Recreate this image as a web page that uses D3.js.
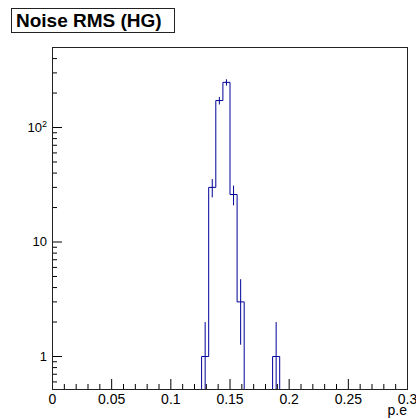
<!DOCTYPE html>
<html>
<head>
<meta charset="utf-8">
<script src="https://cdnjs.cloudflare.com/ajax/libs/d3/7.8.5/d3.min.js"></script>
<style>
  body { margin: 0; background: #fff; }
  svg { display: block; font-family: "Liberation Sans", Arial, sans-serif; }
</style>
</head>
<body>
<div id="chart"></div>
<script>
// data: noise RMS histogram, 50 bins from 0 to 0.3 p.e
var binLow = 0;
var binHigh = 0.3;
var counts = [
  0, 0, 0, 0, 0, 0, 0, 0, 0, 0,
  0, 0, 0, 0, 0, 0, 0, 0, 0, 0,
  0, 1, 30, 172, 248, 26, 3, 0, 0, 0,
  0, 1, 0, 0, 0, 0, 0, 0, 0, 0,
  0, 0, 0, 0, 0, 0, 0, 0, 0, 0
];

var xTicks = [0, 0.05, 0.1, 0.15, 0.2, 0.25, 0.3];
var xTickLabels = ["0", "0.05", "0.1", "0.15", "0.2", "0.25", "0.3"];
var yTicks = [1, 10, 100];
var yTickLabels = ["1", "10", "10^2"];
var yMinorTicks = [0.6, 0.7, 0.8, 0.9, 2, 3, 4, 5, 6, 7, 8, 9,
                   20, 30, 40, 50, 60, 70, 80, 90, 200, 300, 400, 500];
var titleText = "Noise RMS (HG)";
var xTitle = "p.e";

// chart parameters
var svgWidth = 416;
var svgHeight = 419;

var margin = {
  top: 47,
  right: 9,
  bottom: 30,
  left: 52
};

var width = svgWidth - margin.left - margin.right;
var height = svgHeight - margin.top - margin.bottom;

var histColor = "#000099";

var svg = d3.select("#chart")
  .append("svg")
  .attr("width", svgWidth)
  .attr("height", svgHeight);

var chartGroup = svg.append("g")
  .attr("transform", `translate(${margin.left}, ${margin.top})`);

// scales
var xScale = d3.scaleLinear()
  .domain([binLow, binHigh])
  .range([0, width]);

var yScale = d3.scaleLog()
  .domain([0.515, 500])
  .range([height, 0]);

var binWidth = (binHigh - binLow) / counts.length;
var bins = counts.map(function(c, i) {
  return { x0: binLow + i * binWidth, x1: binLow + (i + 1) * binWidth, n: c };
});

function yPos(v) {
  if (v <= yScale.domain()[0]) return height;
  return yScale(v);
}

// clip to the frame
chartGroup.append("clipPath")
  .attr("id", "frameClip")
  .append("rect")
  .attr("x", 0)
  .attr("y", 0)
  .attr("width", width + 1)
  .attr("height", height + 1);

// histogram outline (steps)
var stepPoints = [];
bins.forEach(function(b) {
  stepPoints.push([xScale(b.x0), yPos(b.n)]);
  stepPoints.push([xScale(b.x1), yPos(b.n)]);
});

var histGroup = chartGroup.append("g")
  .attr("clip-path", "url(#frameClip)")
  .attr("transform", "translate(0.5,0.5)");

histGroup.append("path")
  .datum(stepPoints)
  .attr("fill", "none")
  .attr("stroke", histColor)
  .attr("stroke-width", 1)
  .attr("d", d3.line());

// error bars (sqrt N)
histGroup.selectAll(".errBar")
  .data(bins.filter(b => b.n > 0))
  .enter()
  .append("line")
  .classed("errBar", true)
  .attr("x1", d => xScale((d.x0 + d.x1) / 2))
  .attr("x2", d => xScale((d.x0 + d.x1) / 2))
  .attr("y1", d => yPos(d.n - Math.sqrt(d.n)))
  .attr("y2", d => yPos(d.n + Math.sqrt(d.n)))
  .attr("stroke", histColor)
  .attr("stroke-width", 1);

// x axis (ticks pointing into the frame)
var bottomAxis = d3.axisBottom(xScale)
  .tickValues(xTicks)
  .tickSize(-10)
  .tickPadding(5)
  .tickFormat((d, i) => xTickLabels[i]);

var xAxis = chartGroup.append("g")
  .attr("transform", `translate(0, ${height})`)
  .call(bottomAxis);

var xMinor = d3.range(31).map(i => i / 100).filter(v => xTicks.indexOf(v) < 0 && Math.round(v * 100) % 5 !== 0);
chartGroup.append("g")
  .attr("transform", `translate(0, ${height})`)
  .call(d3.axisBottom(xScale).tickValues(xMinor).tickSize(-5).tickFormat(""));

// y axis
var leftAxis = d3.axisLeft(yScale)
  .tickValues(yTicks)
  .tickSize(-10)
  .tickPadding(5)
  .tickFormat("");

var yAxis = chartGroup.append("g")
  .call(leftAxis);

chartGroup.append("g")
  .call(d3.axisLeft(yScale).tickValues(yMinorTicks).tickSize(-5).tickFormat(""));

chartGroup.selectAll(".domain").remove();
chartGroup.selectAll(".tick line").attr("stroke", "#000");

xAxis.selectAll("text")
  .attr("font-size", "14px")
  .attr("fill", "#000")
  .attr("font-family", "Liberation Sans, Arial, sans-serif");

// y labels with exponent
yAxis.selectAll(".tick").each(function(d, i) {
  var lab = yTickLabels[i];
  var t = d3.select(this).select("text")
    .attr("font-size", "13px")
    .attr("fill", "#000")
    .attr("font-family", "Liberation Sans, Arial, sans-serif");
  var parts = lab.split("^");
  t.text(parts[0]);
  if (parts.length > 1) {
    t.append("tspan")
      .attr("font-size", "9px")
      .attr("dy", "-5")
      .text(parts[1]);
  }
});

// frame
chartGroup.append("rect")
  .attr("x", 0.5)
  .attr("y", 0.5)
  .attr("width", width)
  .attr("height", height)
  .attr("fill", "none")
  .attr("stroke", "#222")
  .attr("stroke-width", 1);

// x axis title
chartGroup.append("text")
  .attr("x", width)
  .attr("y", height + 26)
  .attr("text-anchor", "end")
  .attr("font-size", "14px")
  .text(xTitle);

// title box
svg.append("rect")
  .attr("x", 11.5)
  .attr("y", 8.5)
  .attr("width", 163)
  .attr("height", 24)
  .attr("fill", "#fff")
  .attr("stroke", "#222")
  .attr("stroke-width", 1);

svg.append("text")
  .attr("x", 16)
  .attr("y", 27)
  .attr("font-size", "19px")
  .attr("font-weight", "bold")
  .text(titleText);
</script>
</body>
</html>
